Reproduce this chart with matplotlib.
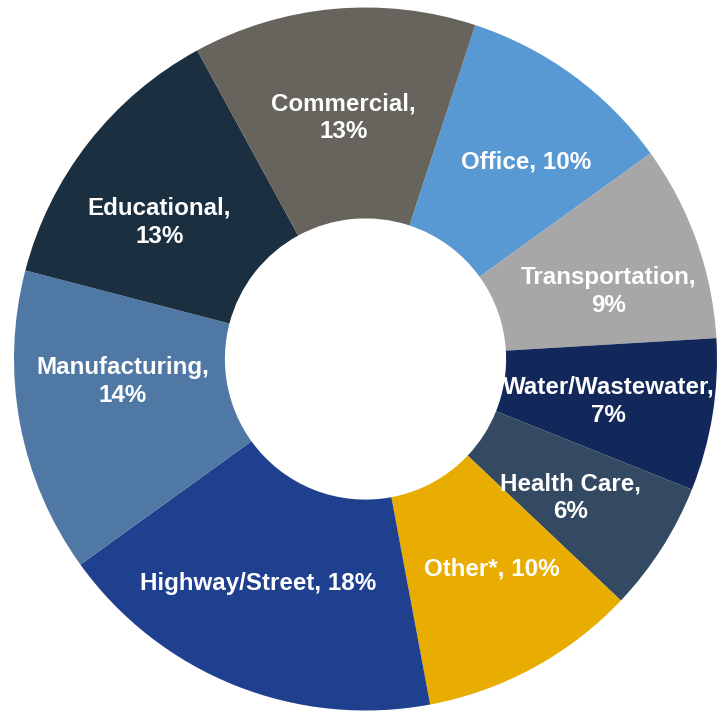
import matplotlib
matplotlib.use("Agg")
import matplotlib.pyplot as plt
import numpy as np

# Share of construction spending by sector (percent), clockwise from the top right
sectors = ["Office", "Transportation", "Water/Wastewater", "Health Care", "Other*",
           "Highway/Street", "Manufacturing", "Educational", "Commercial"]
shares = [10, 9, 7, 6, 10, 18, 14, 13, 13]
label_texts = ["Office, 10%", "Transportation,\n9%", "Water/Wastewater,\n7%",
               "Health Care,\n6%", "Other*, 10%", "Highway/Street, 18%",
               "Manufacturing,\n14%", "Educational,\n13%", "Commercial,\n13%"]
colors = ["#5899D3", "#A7A7A7", "#12275A", "#344A63", "#E8AD00",
          "#1F3F8F", "#4F79A4", "#1A2F40", "#67645E"]

# Hand-tuned nudges for each label, in pixels (right, down)
label_nudge = [(15, 2), (11, 15), (0, 3), (-2, 6), (9, -6),
               (-16, -4), (-1, -23), (-12, 15), (0, 4)]

W, H = 728, 713
fig = plt.figure(figsize=(W / 100, H / 100), dpi=100)
ax = fig.add_axes([0, 0, 1, 1])

cx, cy, R = 365.5, 359.0, 351.5  # pixel centre and outer radius
hole = 0.40
start = 71.8

wedges, _ = ax.pie(shares, colors=colors, startangle=start, counterclock=False,
                   radius=1.0, wedgeprops=dict(width=1 - hole, linewidth=0))

lab_r = (1 + hole) / 2
total = sum(shares)
acc = 0
for val, txt, (ndx, ndy) in zip(shares, label_texts, label_nudge):
    mid = start - (acc + val / 2) / total * 360
    acc += val
    a = np.deg2rad(mid)
    x = lab_r * np.cos(a) + ndx / R
    y = lab_r * np.sin(a) - ndy / R
    ax.text(x, y, txt, ha="center", va="center",
            color="white", fontsize=17.4, fontweight="bold",
            family="Liberation Sans", linespacing=1.28)

ax.set_xlim(-cx / R, (W - cx) / R)
ax.set_ylim(-(H - cy) / R, cy / R)
ax.set_aspect("equal")
ax.axis("off")

fig.savefig("out.png", dpi=100)
